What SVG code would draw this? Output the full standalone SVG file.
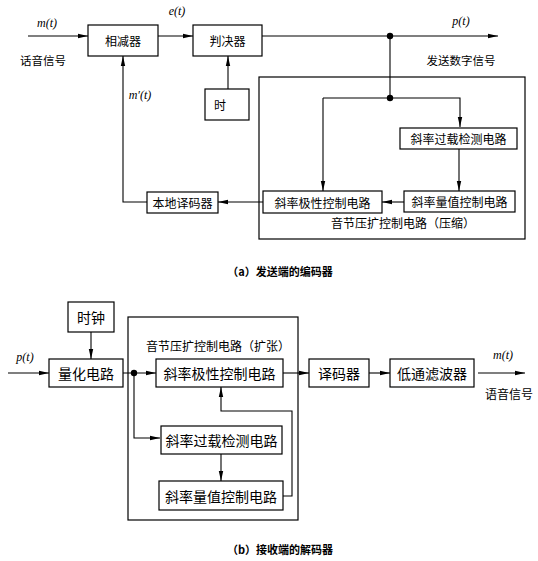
<svg xmlns="http://www.w3.org/2000/svg" width="538" height="561" viewBox="0 0 538 561">
<style>
.b{fill:#fff;stroke:#000;stroke-width:1.2}
.f{fill:none;stroke:#000;stroke-width:1.2}
.l{fill:none;stroke:#000;stroke-width:1.1}
.t{font-family:"Noto Sans CJK SC","Noto Sans",sans-serif;font-size:12px;fill:#000;text-anchor:middle;dominant-baseline:central}
.t2{font-family:"Noto Sans CJK SC","Noto Sans",sans-serif;font-size:14px;fill:#000;text-anchor:middle;dominant-baseline:central}
.m{font-family:"Liberation Serif",serif;font-style:italic;font-size:12px;fill:#000;text-anchor:middle}
.c{font-family:"Noto Sans CJK SC",sans-serif;font-weight:bold;font-size:11px;fill:#000;text-anchor:middle}
</style>
<defs>
<marker id="a" viewBox="0 0 10 6" refX="10" refY="3" markerWidth="10" markerHeight="6" markerUnits="userSpaceOnUse" orient="auto">
<path d="M0,0.8 L10,3 L0,5.2 Z" fill="#000"/>
</marker>
</defs>
<g id="connectors">
<line class="l" x1="28" y1="36" x2="88" y2="36" marker-end="url(#a)"/>
<line class="l" x1="158" y1="36" x2="193" y2="36" marker-end="url(#a)"/>
<line class="l" x1="262" y1="36" x2="498" y2="36" marker-end="url(#a)"/>
<line class="l" x1="228" y1="89" x2="228" y2="56" marker-end="url(#a)"/>
<line class="l" x1="390" y1="36" x2="390" y2="98"/>
<polyline class="l" points="323,98 460,98 460,127" marker-end="url(#a)"/>
<line class="l" x1="323" y1="98" x2="323" y2="191" marker-end="url(#a)"/>
<line class="l" x1="459" y1="149" x2="459" y2="191" marker-end="url(#a)"/>
<line class="l" x1="404" y1="202" x2="382" y2="202" marker-end="url(#a)"/>
<line class="l" x1="263" y1="202" x2="218" y2="202" marker-end="url(#a)"/>
<polyline class="l" points="147,202 123,202 123,56" marker-end="url(#a)"/>
<circle cx="390" cy="36" r="3.2" fill="#000"/>
<circle cx="390" cy="98" r="3.2" fill="#000"/>
<line class="l" x1="91" y1="332" x2="91" y2="359" marker-end="url(#a)"/>
<line class="l" x1="8" y1="373" x2="49" y2="373" marker-end="url(#a)"/>
<line class="l" x1="123" y1="373" x2="156" y2="373" marker-end="url(#a)"/>
<polyline class="l" points="134,373 134,438 160,438" marker-end="url(#a)"/>
<circle cx="134" cy="373" r="3.2" fill="#000"/>
<line class="l" x1="221" y1="454" x2="221" y2="481" marker-end="url(#a)"/>
<polyline class="l" points="283,496 292,496 292,411 221,411 221,387" marker-end="url(#a)"/>
<line class="l" x1="283" y1="373" x2="309" y2="373" marker-end="url(#a)"/>
<line class="l" x1="369" y1="373" x2="390" y2="373" marker-end="url(#a)"/>
<line class="l" x1="478" y1="373" x2="525" y2="373" marker-end="url(#a)"/>
</g>
<g id="frameA"><rect class="f" x="259" y="77" width="266" height="162"/>
<text class="t" x="403" y="222">音节压扩控制电路（压缩）</text></g>
<g id="subtractor"><rect class="b" x="88" y="25" width="70" height="31"/><text class="t" x="123" y="40.5">相减器</text></g>
<g id="decider"><rect class="b" x="193" y="25" width="69" height="31"/><text class="t" x="227.5" y="40.5">判决器</text></g>
<g id="clockA"><rect class="b" x="205" y="89" width="44" height="31"/><text class="t" x="220" y="104.5">时</text></g>
<g id="overloadA"><rect class="b" x="400" y="128" width="117" height="21"/><text class="t" x="458.5" y="138.5">斜率过载检测电路</text></g>
<g id="magA"><rect class="b" x="404" y="191" width="111" height="21"/><text class="t" x="459.5" y="201.5">斜率量值控制电路</text></g>
<g id="polA"><rect class="b" x="263" y="191" width="119" height="22"/><text class="t" x="322.5" y="202">斜率极性控制电路</text></g>
<g id="localDec"><rect class="b" x="147" y="192" width="71" height="21"/><text class="t" x="182.5" y="202.5">本地译码器</text></g>
<g id="labelsA">
<text class="m" x="47" y="27">m(t)</text>
<text class="m" x="177" y="15">e(t)</text>
<text class="m" x="461" y="25">p(t)</text>
<text class="m" x="140" y="99">m′(t)</text>
<text class="t" x="43" y="60" style="font-size:11.5px">话音信号</text>
<text class="t" x="461" y="60" style="font-size:11.5px">发送数字信号</text>
<text class="c" x="280" y="276">（a）发送端的编码器</text>
</g>
<g id="frameB"><rect class="f" x="128" y="317" width="170" height="203"/>
<text class="t" x="218" y="345">音节压扩控制电路（扩张）</text></g>
<g id="clockB"><rect class="b" x="68" y="302" width="46" height="30"/><text class="t2" x="91" y="317">时钟</text></g>
<g id="quant"><rect class="b" x="49" y="359" width="74" height="28"/><text class="t2" x="86" y="373">量化电路</text></g>
<g id="polB"><rect class="b" x="156" y="359" width="127" height="28"/><text class="t2" x="219.5" y="373">斜率极性控制电路</text></g>
<g id="overloadB"><rect class="b" x="161" y="426" width="121" height="28"/><text class="t2" x="221.5" y="440">斜率过载检测电路</text></g>
<g id="magB"><rect class="b" x="159" y="481" width="124" height="29"/><text class="t2" x="221" y="495.5">斜率量值控制电路</text></g>
<g id="decoder"><rect class="b" x="309" y="359" width="60" height="28"/><text class="t2" x="339" y="373">译码器</text></g>
<g id="lpf"><rect class="b" x="390" y="359" width="84" height="28"/><text class="t2" x="432" y="373">低通滤波器</text></g>
<g id="labelsB">
<text class="m" x="25" y="361">p(t)</text>
<text class="m" x="503" y="359">m(t)</text>
<text class="t" x="509" y="393">语音信号</text>
<text class="c" x="280" y="554">（b）接收端的解码器</text>
</g>
</svg>
